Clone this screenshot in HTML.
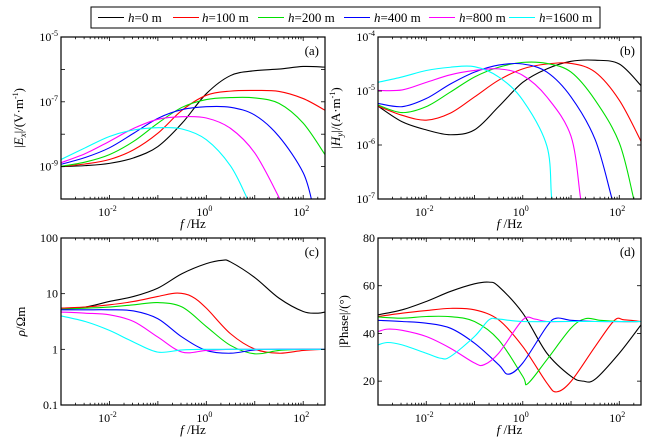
<!DOCTYPE html>
<html><head><meta charset="utf-8"><style>
html,body{margin:0;padding:0;background:#fff;}
svg{display:block;}
svg, svg text{font-family:"Liberation Serif","Times New Roman",serif;}
</style></head><body>
<svg id="fig" width="668" height="439" viewBox="0 0 668 439" xmlns="http://www.w3.org/2000/svg" font-family="Liberation Serif, serif">
  <g>
    <rect x="91" y="7" width="509" height="21" fill="#fff" stroke="#000" stroke-width="1"/>
    <g font-size="13" font-family="Liberation Serif, serif">
      <line x1="98" y1="17.5" x2="124" y2="17.5" stroke="#000"/>
      <text x="128" y="22"><tspan font-style="italic">h</tspan>=0 m</text>
      <line x1="173" y1="17.5" x2="199" y2="17.5" stroke="#f00"/>
      <text x="202" y="22"><tspan font-style="italic">h</tspan>=100 m</text>
      <line x1="258" y1="17.5" x2="284" y2="17.5" stroke="#00e000"/>
      <text x="288" y="22"><tspan font-style="italic">h</tspan>=200 m</text>
      <line x1="344" y1="17.5" x2="370" y2="17.5" stroke="#00f"/>
      <text x="374" y="22"><tspan font-style="italic">h</tspan>=400 m</text>
      <line x1="429" y1="17.5" x2="455" y2="17.5" stroke="#f0f"/>
      <text x="459" y="22"><tspan font-style="italic">h</tspan>=800 m</text>
      <line x1="509" y1="17.5" x2="535" y2="17.5" stroke="#0ff"/>
      <text x="539" y="22"><tspan font-style="italic">h</tspan>=1600 m</text>
    </g>
  </g>
</svg>
<script>
// ---- data (x = log10 f/Hz) ----
const seriesNames = ["h=0 m","h=100 m","h=200 m","h=400 m","h=800 m","h=1600 m"];
const seriesColors = ["#000","#f00","#00e000","#00f","#f0f","#0ff"];
const xTickValues = [-2,0,2];
// (a) log10 |Ex|
const exH0 = [[-3,-9.0],[-2.5,-8.97],[-2,-8.9],[-1.5,-8.73],[-1,-8.38],[-0.5,-7.66],[0,-6.75],[0.5,-6.19],[1,-6.04],[1.5,-5.99],[2,-5.91],[2.45,-5.93]];
const exH100 = [[-3,-8.99],[-2.5,-8.92],[-2,-8.78],[-1.5,-8.48],[-1,-7.97],[-0.5,-7.26],[0,-6.8],[0.5,-6.67],[1,-6.65],[1.5,-6.68],[2,-6.9],[2.45,-7.26]];
const exH200 = [[-3,-8.99],[-2.5,-8.86],[-2,-8.63],[-1.5,-8.22],[-1,-7.66],[-0.5,-7.17],[0,-6.93],[0.5,-6.87],[1,-6.88],[1.5,-7.05],[2,-7.66],[2.45,-8.63]];
const exH400 = [[-3,-8.93],[-2.5,-8.72],[-2,-8.42],[-1.5,-7.97],[-1,-7.51],[-0.5,-7.24],[0,-7.15],[0.5,-7.17],[1,-7.41],[1.5,-8.07],[2,-9.19],[2.2,-10.2]];
const exH800 = [[-3,-8.88],[-2.5,-8.6],[-2,-8.22],[-1.5,-7.82],[-1,-7.54],[-0.5,-7.46],[0,-7.5],[0.5,-7.82],[1,-8.58],[1.5,-9.95],[1.7,-10.6]];
const exH1600 = [[-3,-8.78],[-2.5,-8.42],[-2,-8.07],[-1.5,-7.87],[-1,-7.8],[-0.5,-7.84],[0,-8.17],[0.5,-8.98],[0.85,-10],[1,-10.5]];
// (b) log10 |Hy|
const hyH0 = [[-3,-5.28],[-2.5,-5.57],[-2,-5.72],[-1.5,-5.81],[-1,-5.72],[-0.5,-5.29],[0,-4.84],[0.5,-4.59],[1,-4.45],[1.5,-4.43],[2,-4.5],[2.45,-4.9]];
const hyH100 = [[-3,-5.28],[-2.5,-5.45],[-2,-5.54],[-1.5,-5.41],[-1,-5.11],[-0.5,-4.8],[0,-4.59],[0.5,-4.5],[1,-4.49],[1.5,-4.65],[2,-5.17],[2.45,-5.93]];
const hyH200 = [[-3,-5.26],[-2.5,-5.4],[-2,-5.29],[-1.5,-5.02],[-1,-4.74],[-0.5,-4.56],[0,-4.47],[0.5,-4.49],[1,-4.65],[1.5,-5.17],[2,-5.96],[2.3,-7],[2.4,-7.4]];
const hyH400 = [[-3,-5.23],[-2.5,-5.29],[-2,-5.14],[-1.5,-4.87],[-1,-4.65],[-0.5,-4.52],[0,-4.5],[0.5,-4.65],[1,-5.11],[1.5,-5.9],[1.85,-7],[2,-7.5]];
const hyH800 = [[-3,-4.99],[-2.5,-4.98],[-2,-4.84],[-1.5,-4.7],[-1,-4.62],[-0.5,-4.59],[0,-4.71],[0.5,-5.11],[1,-5.84],[1.2,-7],[1.3,-7.5]];
const hyH1600 = [[-3,-4.84],[-2.5,-4.74],[-2,-4.62],[-1.5,-4.56],[-1,-4.55],[-0.5,-4.74],[0,-5.17],[0.5,-6.02],[0.6,-7],[0.7,-7.5]];
// (c) log10 rho
const rhoH0 = [[-3,0.74],[-2.5,0.76],[-2,0.86],[-1.5,0.95],[-1,1.1],[-0.5,1.36],[0,1.54],[0.33,1.6],[0.5,1.57],[1,1.29],[1.5,0.92],[2,0.68],[2.3,0.65],[2.45,0.67]];
const rhoH100 = [[-3,0.74],[-2.5,0.76],[-2,0.8],[-1.5,0.86],[-1,0.95],[-0.6,1.01],[-0.3,0.95],[0,0.74],[0.5,0.28],[1,0.005],[1.5,-0.07],[2,-0.02],[2.45,0]];
const rhoH200 = [[-3,0.72],[-2.5,0.74],[-2,0.76],[-1.5,0.8],[-1,0.84],[-0.5,0.76],[0,0.41],[0.5,0.07],[1,-0.08],[1.5,-0.02],[2,0],[2.45,0]];
const rhoH400 = [[-3,0.71],[-2.5,0.71],[-2,0.71],[-1.5,0.69],[-1,0.55],[-0.5,0.22],[0,-0.02],[0.5,-0.07],[1,-0.01],[1.5,0],[2,0],[2.45,0]];
const rhoH800 = [[-3,0.67],[-2.5,0.65],[-2,0.62],[-1.5,0.5],[-1,0.22],[-0.5,-0.05],[0,-0.02],[0.5,0],[1,0],[2,0],[2.45,0]];
const rhoH1600 = [[-3,0.6],[-2.5,0.5],[-2,0.34],[-1.5,0.13],[-1,-0.05],[-0.5,-0.01],[0,0],[1,0],[2,0],[2.45,0]];
// (d) |phase| degrees
const phH0 = [[-3,47.8],[-2.5,49.9],[-2,53.4],[-1.5,57.6],[-1,60.8],[-0.7,61.5],[-0.5,59.7],[0,48.5],[0.5,31.7],[1,22],[1.25,20],[1.5,20.8],[2,31.7],[2.45,43.6]];
const phH100 = [[-3,47.1],[-2.5,48.5],[-2,49.6],[-1.5,50.5],[-1,49.9],[-0.5,45.7],[0,34.5],[0.5,19.2],[0.7,15.5],[1,19.9],[1.5,34.5],[1.9,45.5],[2.1,45.7],[2.45,45]];
const phH200 = [[-3,46.9],[-2.5,46.4],[-2,47.1],[-1.5,47],[-1,45],[-0.5,37.3],[0,22],[0.1,18.9],[0.5,29],[1,42.2],[1.3,46.2],[1.6,45.5],[2,45],[2.45,45]];
const phH400 = [[-3,45.5],[-2.5,45],[-2,44.3],[-1.5,42.2],[-1,35.9],[-0.5,26.9],[-0.3,22.9],[0,27.6],[0.5,43],[0.7,46.4],[1,45.5],[1.5,45],[2.45,45]];
const phH800 = [[-3,40.8],[-2.8,41.8],[-2.5,41.3],[-2,38.7],[-1.5,33.8],[-1,27.6],[-0.8,26.9],[-0.5,31.7],[0,45.7],[0.25,46],[0.5,45],[1,45],[2.45,45]];
const phH1600 = [[-3,35.2],[-2.8,36.2],[-2.5,35.2],[-2,31.7],[-1.7,29.6],[-1.5,30.3],[-1,38.7],[-0.7,45.7],[-0.5,46],[0,45],[1,45],[2.45,45]];

const NS="http://www.w3.org/2000/svg";
const svg=document.getElementById('fig');
function mk(tag,attrs,parent){const e=document.createElementNS(NS,tag);for(const k in attrs)e.setAttribute(k,attrs[k]);(parent||svg).appendChild(e);return e;}
const FF='Liberation Serif, serif';

const panels=[
 {id:'a',x0:61,x1:325,y0:37,y1:199,log:true,ymin:-10,ymax:-5,majors:[-10,-9,-8,-7,-6,-5],labels:[-9,-7,-5],data:[exH0,exH100,exH200,exH400,exH800,exH1600],ylab:'ex'},
 {id:'b',x0:378,x1:641,y0:37,y1:199,log:true,ymin:-7,ymax:-4,majors:[-7,-6,-5,-4],labels:[-7,-6,-5,-4],data:[hyH0,hyH100,hyH200,hyH400,hyH800,hyH1600],ylab:'hy'},
 {id:'c',x0:61,x1:325,y0:238,y1:405,log:true,ymin:-1,ymax:2,majors:[-1,0,1,2],labels:[-1,0,1,2],data:[rhoH0,rhoH100,rhoH200,rhoH400,rhoH800,rhoH1600],ylab:'rho',plain:true},
 {id:'d',x0:378,x1:641,y0:238,y1:405,log:false,ymin:10,ymax:80,majors:[20,40,60,80],labels:[20,40,60,80],data:[phH0,phH100,phH200,phH400,phH800,phH1600],ylab:'ph'}
];
const XMIN=-3,XMAX=2.45;

panels.forEach(p=>{
  const g=mk('g',{'font-family':FF});
  
  
  const sx=v=>p.x0+(v-XMIN)/(XMAX-XMIN)*(p.x1-p.x0);
  const sy=v=>p.y1-(v-p.ymin)/(p.ymax-p.ymin)*(p.y1-p.y0);
  const cp=mk('clipPath',{id:'clip-'+p.id},g);
  mk('rect',{x:p.x0,y:p.y0,width:p.x1-p.x0,height:p.y1-p.y0},cp);
  const sg=mk('g',{'clip-path':'url(#clip-'+p.id+')'},g);
  p.data.forEach((pts,i)=>{
    const P=pts.map(q=>[sx(q[0]),sy(q[1])]);
    let d='M'+P[0][0].toFixed(2)+','+P[0][1].toFixed(2);
    for(let k=0;k<P.length-1;k++){
      const p0=P[Math.max(0,k-1)],p1=P[k],p2=P[k+1],p3=P[Math.min(P.length-1,k+2)];
      const c1=[p1[0]+(p2[0]-p0[0])/6,p1[1]+(p2[1]-p0[1])/6];
      const c2=[p2[0]-(p3[0]-p1[0])/6,p2[1]-(p3[1]-p1[1])/6];
      d+=' C'+c1.map(v=>v.toFixed(2)).join(',')+' '+c2.map(v=>v.toFixed(2)).join(',')+' '+p2.map(v=>v.toFixed(2)).join(',');
    }
    const path=mk('path',{d:d,fill:'none',stroke:seriesColors[i],'stroke-width':1.1},sg);
    
    
  });
  const fr=mk('rect',{x:p.x0,y:p.y0,width:p.x1-p.x0,height:p.y1-p.y0,fill:'none',stroke:'#000','stroke-width':1.2},g);
  
  
  const tg=mk('g',{stroke:'#000','stroke-width':0.8},g);
  for(let dec=-3;dec<=2;dec++){
    for(let m=1;m<10;m++){
      const v=dec+Math.log10(m); if(v<XMIN||v>XMAX) continue;
      const L=m===1?4:2.2; const X=sx(v);
      mk('line',{x1:X,y1:p.y1,x2:X,y2:p.y1-L},tg);
      mk('line',{x1:X,y1:p.y0,x2:X,y2:p.y0+L},tg);
    }
  }
  xTickValues.forEach(v=>{
    const t=mk('text',{x:sx(v)-2,y:p.y1+17,'text-anchor':'middle','font-size':12,'font-family':FF},g);
    
    
    t.innerHTML='10<tspan font-size="8" dy="-5">'+v+'</tspan>';
  });
  p.majors.forEach(v=>{
    const Y=sy(v);
    mk('line',{x1:p.x0,y1:Y,x2:p.x0+4,y2:Y},tg);
    mk('line',{x1:p.x1,y1:Y,x2:p.x1-4,y2:Y},tg);
  });
  p.labels.forEach(v=>{
    const t=mk('text',{x:p.x0-3,y:sy(v)+4,'text-anchor':'end','font-size':12,'font-family':FF},g);
    
    
    if(!p.log) t.textContent=v;
    else if(p.plain) t.textContent=Math.pow(10,v).toString();
    else t.innerHTML='10<tspan font-size="8" dy="-5">'+v+'</tspan>';
  });
  const pt=mk('text',{x:p.x1-6,y:p.y0+18,'text-anchor':'end','font-size':13,'font-family':FF},g);
  
  
  pt.textContent='('+p.id+')';
  const xt=mk('text',{x:(p.x0+p.x1)/2,y:p.y1+29,'text-anchor':'middle','font-size':13,'font-family':FF},g);
  
  
  xt.innerHTML='<tspan font-style="italic">f</tspan> /Hz';
  const cx=p.x0-(p.id==='c'?36:(p.id==='d'?30:38)), cy=(p.y0+p.y1)/2;
  const yt=mk('text',{x:cx,y:cy,'text-anchor':'middle','font-size':13,'font-family':FF,transform:'rotate(-90 '+cx+' '+cy+')'},g);
  
  
  if(p.ylab==='ex') yt.innerHTML='|<tspan font-style="italic">E</tspan><tspan font-size="9" dy="3" font-style="italic">x</tspan><tspan dy="-3">|/(V·m</tspan><tspan font-size="8" dy="-5">-1</tspan><tspan dy="5">)</tspan>';
  else if(p.ylab==='hy') yt.innerHTML='|<tspan font-style="italic">H</tspan><tspan font-size="9" dy="3" font-style="italic">y</tspan><tspan dy="-3">|/(A·m</tspan><tspan font-size="8" dy="-5">-1</tspan><tspan dy="5">)</tspan>';
  else if(p.ylab==='rho') yt.innerHTML='<tspan font-style="italic">ρ</tspan>/Ωm';
  else yt.textContent='|Phase|/(°)';
});
</script>
</body></html>
